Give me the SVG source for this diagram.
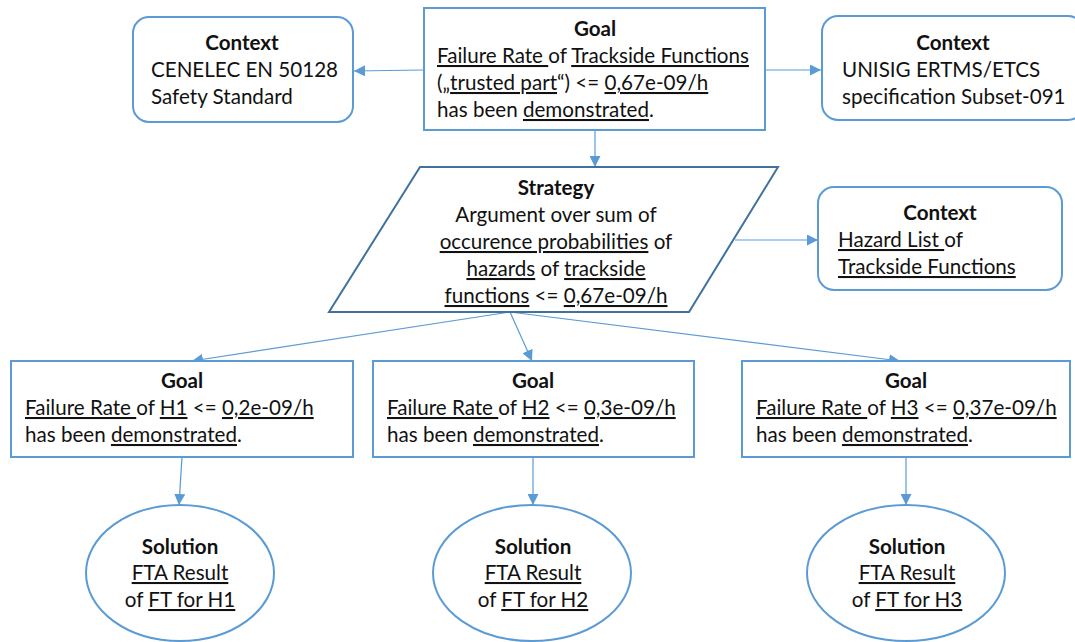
<svg xmlns="http://www.w3.org/2000/svg" width="1075" height="642" viewBox="0 0 1075 642">
<style>
text{font-family:Lato,"Liberation Sans",sans-serif;font-size:20.6px;fill:#111}
.b{font-weight:bold}
.c{text-anchor:middle}
.u{text-decoration:underline}
.box{fill:#fff;stroke:#5b9bd5;stroke-width:2}
.strat{fill:#fff;stroke:#41719c;stroke-width:2}
.con{fill:none;stroke:#5b9bd5;stroke-width:1.2;marker-end:url(#ah)}
</style>
<defs>
<marker id="ah" viewBox="0 0 10 10" refX="10" refY="5" markerUnits="userSpaceOnUse" markerWidth="11" markerHeight="11" orient="auto">
<path d="M0,0 L10,5 L0,10 z" fill="#5b9bd5"/>
</marker>
</defs>
<rect width="1075" height="642" fill="#fff"/>
<g id="connectors">
<line class="con" x1="424" y1="70" x2="354" y2="71"/>
<line class="con" x1="765" y1="70" x2="821" y2="70"/>
<line class="con" x1="595" y1="130" x2="595" y2="167"/>
<line class="con" x1="735" y1="240" x2="818" y2="240"/>
<line class="con" x1="510" y1="312" x2="192" y2="361"/>
<line class="con" x1="510" y1="312" x2="532" y2="361"/>
<line class="con" x1="510" y1="312" x2="900" y2="361"/>
<line class="con" x1="182" y1="457" x2="179" y2="505"/>
<line class="con" x1="533" y1="457" x2="533" y2="505"/>
<line class="con" x1="906" y1="457" x2="906" y2="505"/>
</g>
<g id="goal-top">
<rect class="box" x="424" y="8" width="341" height="122"/>
<text class="b c" x="595" y="36">Goal</text>
<text x="437" y="63"><tspan class="u">Failure Rate </tspan>of <tspan class="u">Trackside Functions</tspan></text>
<text x="437" y="90">(„<tspan class="u">trusted part</tspan>“) &lt;= <tspan class="u">0,67e-09/h</tspan></text>
<text x="437" y="117">has been <tspan class="u">demonstrated</tspan>.</text>
</g>
<g id="context-1">
<rect class="box" x="133" y="17" width="220" height="105" rx="16"/>
<text class="b c" x="242" y="50">Context</text>
<text x="151" y="77">CENELEC EN 50128</text>
<text x="151" y="104">Safety Standard</text>
</g>
<g id="context-2">
<rect class="box" x="822" y="16" width="262" height="104" rx="16"/>
<text class="b c" x="953" y="50">Context</text>
<text x="842" y="77">UNISIG ERTMS/ETCS</text>
<text x="842" y="104">specification Subset-091</text>
</g>
<g id="strategy">
<polygon class="strat" points="420,167 778,167 689,312 329,312"/>
<text class="b c" x="556" y="195">Strategy</text>
<text class="c" x="556" y="222">Argument over sum of</text>
<text class="c" x="556" y="249"><tspan class="u">occurence probabilities</tspan> of</text>
<text class="c" x="556" y="276"><tspan class="u">hazards</tspan> of <tspan class="u">trackside</tspan></text>
<text class="c" x="556" y="303"><tspan class="u">functions</tspan> &lt;= <tspan class="u">0,67e-09/h</tspan></text>
</g>
<g id="context-3">
<rect class="box" x="818" y="187" width="244" height="103" rx="16"/>
<text class="b c" x="940" y="220">Context</text>
<text x="838" y="247"><tspan class="u">Hazard List </tspan>of</text>
<text x="838" y="274"><tspan class="u">Trackside Functions</tspan></text>
</g>
<g id="goal-h1">
<rect class="box" x="11" y="361" width="342" height="96"/>
<text class="b c" x="182" y="388">Goal</text>
<text x="25" y="415"><tspan class="u">Failure Rate </tspan>of <tspan class="u">H1</tspan> &lt;= <tspan class="u">0,2e-09/h</tspan></text>
<text x="25" y="442">has been <tspan class="u">demonstrated</tspan>.</text>
</g>
<g id="goal-h2">
<rect class="box" x="373" y="361" width="321" height="96"/>
<text class="b c" x="533" y="388">Goal</text>
<text x="387" y="415"><tspan class="u">Failure Rate </tspan>of <tspan class="u">H2</tspan> &lt;= <tspan class="u">0,3e-09/h</tspan></text>
<text x="387" y="442">has been <tspan class="u">demonstrated</tspan>.</text>
</g>
<g id="goal-h3">
<rect class="box" x="742" y="361" width="328" height="96"/>
<text class="b c" x="906" y="388">Goal</text>
<text x="756" y="415"><tspan class="u">Failure Rate </tspan>of <tspan class="u">H3</tspan> &lt;= <tspan class="u">0,37e-09/h</tspan></text>
<text x="756" y="442">has been <tspan class="u">demonstrated</tspan>.</text>
</g>
<g id="solution-h1">
<ellipse class="box" cx="180" cy="573" rx="94" ry="68"/>
<text class="b c" x="180" y="554">Solution</text>
<text class="c" x="180" y="580"><tspan class="u">FTA Result</tspan></text>
<text class="c" x="180" y="607">of <tspan class="u">FT for H1</tspan></text>
</g>
<g id="solution-h2">
<ellipse class="box" cx="532" cy="573" rx="99" ry="68"/>
<text class="b c" x="533" y="554">Solution</text>
<text class="c" x="533" y="580"><tspan class="u">FTA Result</tspan></text>
<text class="c" x="533" y="607">of <tspan class="u">FT for H2</tspan></text>
</g>
<g id="solution-h3">
<ellipse class="box" cx="906" cy="573" rx="99" ry="68"/>
<text class="b c" x="907" y="554">Solution</text>
<text class="c" x="907" y="580"><tspan class="u">FTA Result</tspan></text>
<text class="c" x="907" y="607">of <tspan class="u">FT for H3</tspan></text>
</g>
</svg>
